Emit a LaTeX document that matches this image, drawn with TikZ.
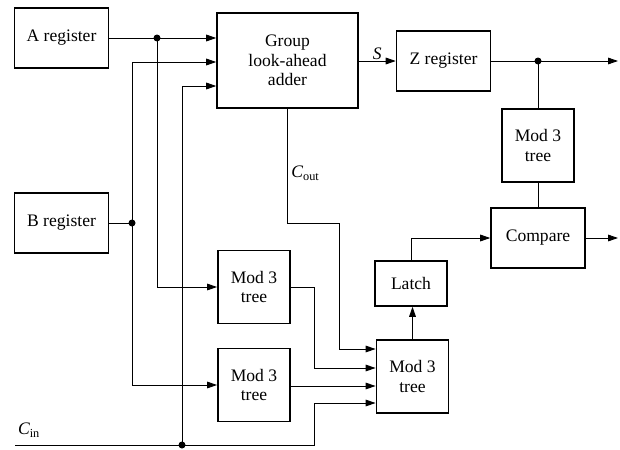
\documentclass[tikz,border=0pt]{standalone}
\usepackage{fontspec}
\setmainfont{Liberation Serif}
\usetikzlibrary{arrows.meta, positioning, calc}
\tikzset{
  regbox/.style={
    draw, line width=1.3pt,
    minimum width=2.82cm, minimum height=1.8cm, align=center,
    font=\fontsize{15}{16.5}\selectfont
  },
  treebox/.style={
    regbox, minimum width=2.17cm, minimum height=2.19cm
  },
  addbox/.style={
    regbox, minimum width=4.23cm, minimum height=2.85cm
  },
  latchbox/.style={
    regbox, minimum width=2.16cm, minimum height=1.35cm
  },
  wire/.style={line width=0.8pt},
  wire-arr/.style={wire, -{Triangle[length=3mm, width=2mm]}},
  jdot/.style={circle, fill, inner sep=0pt, minimum size=2.1mm},
  lbl/.style={font=\fontsize{15}{16.5}\selectfont, inner sep=1pt}
}

\begin{document}
\begin{tikzpicture}[x=0.03cm, y=-0.03cm]
  \useasboundingbox (0,0) rectangle (620,449);

  % ---- blocks --------------------------------------------------------------
  \node[regbox]   (areg)  at (61.5, 38)   {A register};
  \node[regbox]   (breg)  at (61.5, 223)  {B register};
  \node[addbox]   (adder) at (287.5, 60.5) {Group\\look-ahead\\adder};
  \node[regbox]   (zreg)  at (443.5, 61)  {Z register};
  \node[treebox]  (modz)  at (538, 145.5) {Mod 3\\tree};
  \node[regbox]   (cmp)   at (538, 238)   {Compare};
  \node[latchbox] (latch) at (411, 283.5) {Latch};
  \node[treebox]  (modr)  at (412.5, 376.5) {Mod 3\\tree};
  \node[treebox]  (moda)  at (254, 287)   {Mod 3\\tree};
  \node[treebox]  (modb)  at (254, 385)   {Mod 3\\tree};

  % ---- junctions and free ends ---------------------------------------------
  \node[jdot] (ja) at (157, 38)  {};
  \node[jdot] (jb) at (132, 223) {};
  \node[jdot] (jc) at (182, 445) {};
  \node[jdot] (jz) at (538, 61)  {};
  \coordinate (cin)    at (15, 445);
  \coordinate (zout)   at (618, 61);
  \coordinate (cmpout) at (618, 238);

  % ---- A operand -----------------------------------------------------------
  \draw[wire-arr] (areg.east) -- (areg.east -| adder.west);
  \draw[wire-arr] (ja.center) |- (moda.west);

  % ---- B operand -----------------------------------------------------------
  \draw[wire] (breg.east) -- (jb.center);
  \draw[wire-arr] (jb.center) |- (adder.west |- 0,62);
  \draw[wire-arr] (jb.center) |- (modb.west);

  % ---- carry in ------------------------------------------------------------
  \draw[wire-arr] (cin) -| (314,403) -- (modr.west |- 0,403);
  \draw[wire-arr] (jc.center) |- (adder.west |- 0,86);
  \node[lbl] (cinlbl) at (29, 430) {$\mathit{C}_{\mathrm{in}}$};

  % ---- carry out -----------------------------------------------------------
  \draw[wire] (adder.south) |- (339,223);
  \draw[wire-arr] (339,223) |- (modr.west |- 0,349);
  \node[lbl, anchor=west] (coutlbl) at (290, 173) {$\mathit{C}_{\mathrm{out}}$};

  % ---- residue trees into checker ------------------------------------------
  \draw[wire-arr] (moda.east) -| (314,368) -- (modr.west |- 0,368);
  \draw[wire-arr] (modb.east |- 0,386) -- (modr.west |- 0,386);
  \draw[wire-arr] (modr.north) -- (modr.north |- latch.south);
  \draw[wire-arr] (latch.north) |- (cmp.west);
  \draw[wire-arr] (cmp.east) -- (cmpout);

  % ---- sum path ------------------------------------------------------------
  \draw[wire-arr] (adder.east |- zreg.west) -- node[lbl, above] (slbl) {$\mathit{S}$} (zreg.west);
  \draw[wire-arr] (zreg.east) -- (zout);
  \draw[wire] (jz.center) -- (modz.north);
  \draw[wire] (modz.south) -- (cmp.north);

\end{tikzpicture}
\end{document}
